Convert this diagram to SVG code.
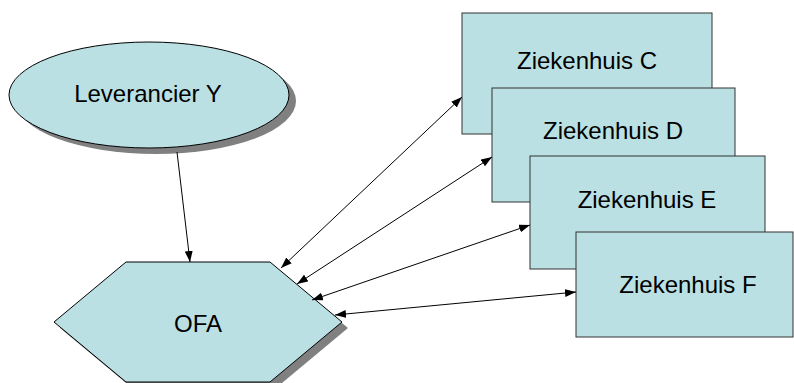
<svg xmlns="http://www.w3.org/2000/svg" width="794" height="383" viewBox="0 0 794 383">
<style>
.sh{fill:#808080;stroke:none}
.nd{fill:#BBE0E3;stroke:#000;stroke-width:1}
.bx{fill:#BBE0E3;stroke:#333;stroke-width:1}
.t{font-family:"Liberation Sans",Arial,sans-serif;font-size:24px;fill:#000;text-anchor:middle}
.c{stroke:#000;stroke-width:1;fill:none}
</style>
<defs>
<marker id="ah" markerUnits="userSpaceOnUse" markerWidth="12" markerHeight="10" refX="11" refY="4" orient="auto-start-reverse">
<path d="M0,0 L11,4 L0,8 z" fill="#000"/>
</marker>
</defs>
<g id="leverancier">
<ellipse class="sh" cx="156" cy="101" rx="140" ry="53"/>
<ellipse class="nd" cx="149" cy="95" rx="140" ry="53"/>
<text class="t" x="148" y="102">Leverancier Y</text>
</g>
<g id="ofa">
<polygon class="sh" points="60,328 132,268 276,268 348,328 276,388 132,388"/>
<polygon class="nd" points="54,322 126,262 270,262 342,322 270,382 126,382"/>
<text class="t" x="198" y="332">OFA</text>
</g>
<g id="ziekenhuis-c">
<rect class="bx" x="462" y="13" width="250" height="121"/>
<text class="t" x="587" y="69">Ziekenhuis C</text>
</g>
<g id="ziekenhuis-d">
<rect class="bx" x="492" y="88" width="243" height="114"/>
<text class="t" x="613" y="139">Ziekenhuis D</text>
</g>
<g id="ziekenhuis-e">
<rect class="bx" x="530" y="156" width="235" height="113"/>
<text class="t" x="647" y="208">Ziekenhuis E</text>
</g>
<g id="ziekenhuis-f">
<rect class="bx" x="576" y="232" width="217" height="105"/>
<text class="t" x="688" y="293">Ziekenhuis F</text>
</g>
<g id="connectors">
<line class="c" x1="177" y1="152" x2="190" y2="262" marker-end="url(#ah)"/>
<line class="c" x1="281" y1="268" x2="462" y2="97" marker-start="url(#ah)" marker-end="url(#ah)"/>
<line class="c" x1="297" y1="284" x2="492" y2="157" marker-start="url(#ah)" marker-end="url(#ah)"/>
<line class="c" x1="312" y1="300" x2="530" y2="225" marker-start="url(#ah)" marker-end="url(#ah)"/>
<line class="c" x1="335" y1="315" x2="576" y2="292" marker-start="url(#ah)" marker-end="url(#ah)"/>
</g>
</svg>
